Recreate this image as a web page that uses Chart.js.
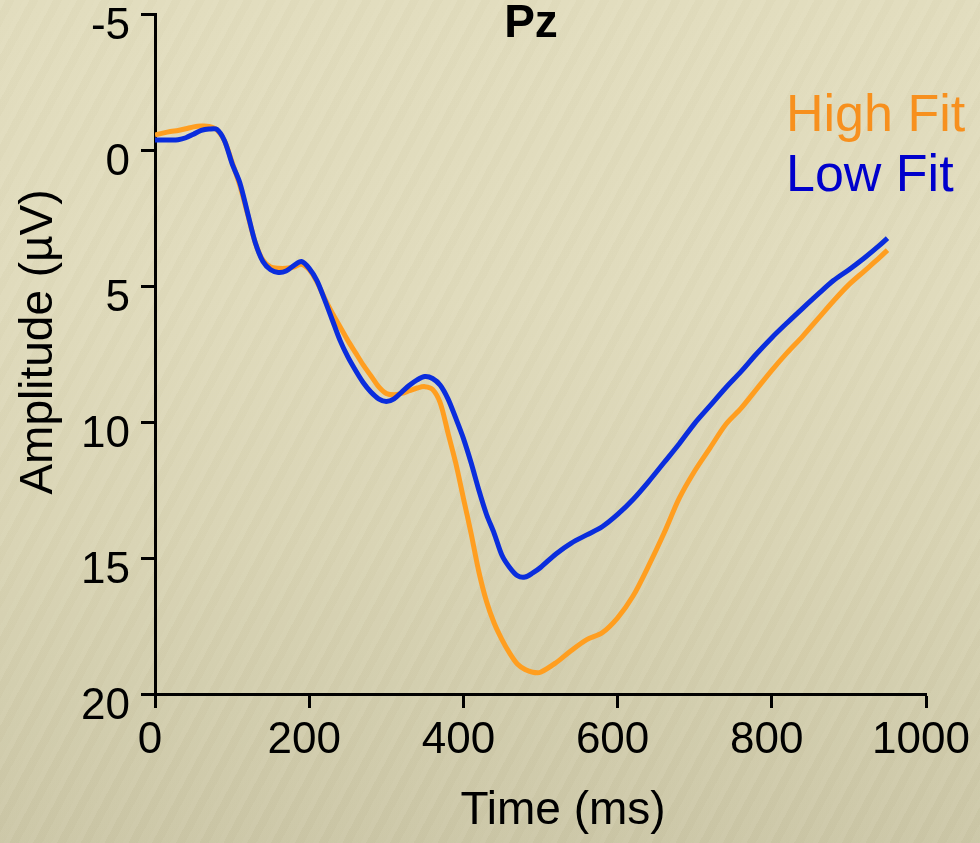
<!DOCTYPE html>
<html>
<head>
<meta charset="utf-8">
<script src="https://cdn.jsdelivr.net/npm/chart.js@4.4.1/dist/chart.umd.min.js"></script>
<style>
  html, body { margin: 0; padding: 0; }
  body {
    width: 980px; height: 843px; overflow: hidden;
    background-color: #dcd7b7;
    background-image:
      repeating-linear-gradient(118deg, rgba(255,255,240,0.06) 0px, rgba(255,255,240,0.06) 5px, rgba(120,110,70,0.015) 5px, rgba(120,110,70,0.015) 13px, rgba(255,255,240,0.03) 13px, rgba(255,255,240,0.03) 21px),
      linear-gradient(180deg, #e1dcbd 0%, #dfdabb 35%, #d8d3b3 65%, #cbc6a6 100%);
  }
  #wrap { position: absolute; left: 0; top: 0; width: 980px; height: 843px; }
</style>
</head>
<body>
<div id="wrap"><canvas id="c" width="980" height="843"></canvas></div>
<script>
// ---- Data ----
const timeMs = [0,10,20,30,40,50,60,70,80,90,100,110,120,130,140,150,160,170,180,190,200,210,220,230,240,250,260,270,280,290,300,310,320,330,340,350,360,370,380,390,400,410,420,430,440,450,460,470,480,490,500,520,540,560,580,600,620,640,660,680,700,720,740,760,780,800,820,840,860,880,900,920,940,950];

const highFit = [-0.55,-0.62,-0.68,-0.72,-0.78,-0.85,-0.88,-0.87,-0.75,-0.35,0.45,1.3,2.35,3.4,4.05,4.3,4.35,4.35,4.3,4.2,4.4,4.85,5.45,6.0,6.5,7.0,7.45,7.9,8.3,8.7,8.95,9.0,8.95,8.85,8.75,8.7,8.8,9.3,10.4,11.5,12.8,14.1,15.5,16.6,17.4,18.0,18.5,18.9,19.1,19.2,19.2,18.85,18.4,18.0,17.75,17.2,16.4,15.3,14.1,12.8,11.8,10.95,10.1,9.5,8.8,8.1,7.45,6.85,6.2,5.55,4.95,4.45,3.95,3.68];

const lowFit = [-0.37,-0.37,-0.37,-0.38,-0.45,-0.58,-0.72,-0.77,-0.76,-0.35,0.5,1.2,2.3,3.4,4.1,4.4,4.5,4.45,4.25,4.1,4.35,4.8,5.5,6.25,7.0,7.6,8.1,8.55,8.9,9.15,9.25,9.15,8.9,8.65,8.45,8.33,8.4,8.65,9.15,9.85,10.6,11.5,12.5,13.4,14.1,14.9,15.35,15.65,15.7,15.55,15.35,14.85,14.45,14.15,13.85,13.4,12.85,12.2,11.5,10.8,10.05,9.4,8.75,8.15,7.5,6.9,6.35,5.82,5.3,4.8,4.4,3.97,3.5,3.24];

const xTicks = [0,200,400,600,800,1000];
const yTicks = [-5,0,5,10,15,20];
const seriesNames = ['High Fit','Low Fit'];
const titleText = 'Pz';
const xTitle = 'Time (ms)';
const yTitle = 'Amplitude (\u00B5V)';

const ORANGE = '#ff9e20';
const BLUE = '#0a2ddd';
const FONT = '"Liberation Sans", Arial, sans-serif';

const toPts = (vals) => timeMs.map((t, i) => ({ x: t, y: vals[i] }));

const textPlugin = {
  id: 'texts',
  afterDraw(chart) {
    const ctx = chart.ctx;
    ctx.save();
    ctx.fillStyle = '#000';
    ctx.textBaseline = 'alphabetic';
    ctx.font = 'bold 46px ' + FONT;
    ctx.textAlign = 'center';
    ctx.fillText(titleText, 531, 37);
    ctx.font = '46px ' + FONT;
    ctx.fillText(xTitle, 563, 824);
    ctx.save();
    ctx.translate(52, 342);
    ctx.rotate(-Math.PI / 2);
    ctx.textAlign = 'center';
    ctx.fillText(yTitle, 0, 0);
    ctx.restore();
    ctx.textAlign = 'left';
    ctx.font = '52px ' + FONT;
    ctx.fillStyle = '#f7901e';
    ctx.fillText(seriesNames[0], 786, 131);
    ctx.fillStyle = '#0000cc';
    ctx.fillText(seriesNames[1], 786, 191);
    ctx.restore();
  }
};

new Chart(document.getElementById('c'), {
  type: 'line',
  data: {
    datasets: [
      { label: seriesNames[1], data: toPts(lowFit), borderColor: BLUE, borderWidth: 5, pointRadius: 0, tension: 0.3, order: 0, fill: false },
      { label: seriesNames[0], data: toPts(highFit), borderColor: ORANGE, borderWidth: 5, pointRadius: 0, tension: 0.3, order: 1, fill: false }
    ]
  },
  options: {
    responsive: false,
    animation: false,
    devicePixelRatio: 1,
    layout: { padding: { top: 14, right: 54, bottom: 0, left: 0 } },
    plugins: { legend: { display: false }, tooltip: { enabled: false }, title: { display: false } },
    scales: {
      x: {
        type: 'linear', min: 0, max: 1000,
        afterBuildTicks: (s) => { s.ticks = xTicks.map(v => ({ value: v })); },
        afterFit: (s) => { s.height = 149; s.paddingLeft = 0; s.paddingRight = 0; },
        grid: { drawOnChartArea: false, drawTicks: true, tickLength: 14, tickWidth: 3, tickColor: '#000' },
        border: { display: true, color: '#000', width: 3 },
        ticks: { color: '#000', font: { family: FONT, size: 44 }, padding: 6, labelOffset: -5, maxRotation: 0, autoSkip: false,
                 callback: (v) => String(v) }
      },
      y: {
        type: 'linear', min: -5, max: 20, reverse: true,
        afterBuildTicks: (s) => { s.ticks = yTicks.map(v => ({ value: v })); },
        afterFit: (s) => { s.width = 155; s.paddingTop = 0; s.paddingBottom = 0; },
        grid: { drawOnChartArea: false, drawTicks: true, tickLength: 14, tickWidth: 3, tickColor: '#000' },
        border: { display: true, color: '#000', width: 3 },
        ticks: { color: '#000', font: { family: FONT, size: 44 }, padding: 11, labelOffset: 13, autoSkip: false,
                 callback: (v) => String(v) }
      }
    }
  },
  plugins: [textPlugin]
});
</script>
</body>
</html>
